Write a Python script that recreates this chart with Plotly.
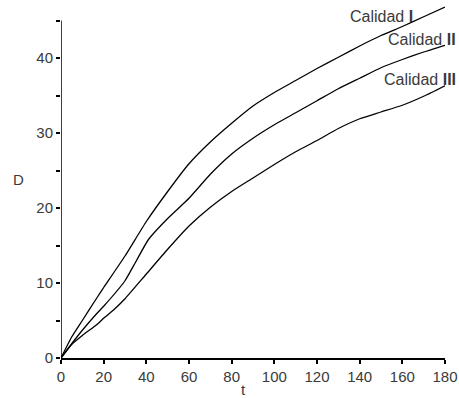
import plotly.graph_objects as go

# ---- data ----
t_I = [0, 5, 10, 17, 20, 30, 40, 50, 60, 70, 80, 90, 100, 110, 120, 130, 140, 150, 160, 170, 180]
D_I = [0, 2.8, 5.0, 8.1, 9.4, 13.6, 18.2, 22.2, 25.9, 28.8, 31.3, 33.6, 35.4, 37.0, 38.6, 40.1, 41.6, 43.0, 44.2, 45.5, 46.8]

t_II = [0, 5, 10, 17, 20, 30, 35, 41, 50, 60, 70, 80, 90, 100, 110, 120, 130, 140, 150, 160, 170, 180]
D_II = [0, 1.9, 3.7, 6.0, 6.9, 10.3, 12.8, 15.8, 18.6, 21.3, 24.5, 27.2, 29.3, 31.1, 32.7, 34.3, 35.9, 37.3, 38.7, 39.8, 40.8, 41.7]

t_III = [0, 5, 10, 17, 20, 25, 30, 40, 50, 60, 70, 80, 90, 100, 110, 120, 130, 140, 150, 160, 170, 180]
D_III = [0, 1.8, 3.0, 4.5, 5.3, 6.5, 7.9, 11.2, 14.5, 17.6, 20.1, 22.2, 24.0, 25.8, 27.5, 29.0, 30.6, 31.9, 32.8, 33.7, 34.9, 36.3]

series_names = ["Calidad <b>I</b>", "Calidad <b>II</b>", "Calidad <b>III</b>"]
label_pos_t = [166, 180, 180]
label_shift = [0, 13, 13]
label_pos_D = [45.6, 42.5, 37.2]

x_ticks = [0, 20, 40, 60, 80, 100, 120, 140, 160, 180]
y_axis_max = 45

FONT = "Liberation Sans"
TXT = "#3a3a3a"

fig = go.Figure()
for tt, dd in [(t_I, D_I), (t_II, D_II), (t_III, D_III)]:
    fig.add_trace(go.Scatter(x=tt, y=dd, mode="lines",
                             line=dict(color="black", width=1.3, shape="spline", smoothing=0.5),
                             showlegend=False, hoverinfo="skip"))

annotations = []
for name, xt, xs, yd in zip(series_names, label_pos_t, label_shift, label_pos_D):
    annotations.append(dict(x=xt, y=yd, xref="x", yref="y", text=name, showarrow=False,
                            xanchor="right", yanchor="middle", xshift=xs,
                            font=dict(family=FONT, size=16, color=TXT)))
annotations.append(dict(x=0, y=0.5, xref="paper", yref="paper", text="D", showarrow=False,
                        xshift=-43, xanchor="center", yanchor="middle",
                        font=dict(family=FONT, size=15, color=TXT)))
annotations.append(dict(x=0.474, y=0, xref="paper", yref="paper", text="t", showarrow=False,
                        yshift=-31, xanchor="center", yanchor="middle",
                        font=dict(family=FONT, size=15, color=TXT)))

fig.update_layout(
    width=459, height=398,
    margin=dict(l=61, r=14, t=1, b=40),
    plot_bgcolor="white", paper_bgcolor="white",
    annotations=annotations,
    shapes=[dict(type="line", xref="x", yref="y", x0=0, x1=0, y0=0, y1=y_axis_max,
                 line=dict(color="black", width=1.5), layer="above")],
    xaxis=dict(range=[0, 180], tickvals=x_ticks, showgrid=False, zeroline=False,
               showline=True, linecolor="black", linewidth=1.5,
               ticks="outside", ticklen=4, tickwidth=1.5, tickcolor="black",
               tickfont=dict(family=FONT, size=15, color=TXT)),
    yaxis=dict(range=[0, 47.6], dtick=10, tick0=0, showgrid=False, zeroline=False,
               showline=False,
               ticks="outside", ticklen=4, tickwidth=1.5, tickcolor="black",
               minor=dict(dtick=5, tick0=0, ticks="outside", ticklen=4, tickwidth=1.5,
                          tickcolor="black", showgrid=False),
               tickfont=dict(family=FONT, size=15, color=TXT)),
)

fig.write_html("out.html", config={"displayModeBar": False},
               post_script="document.body.style.margin='0';")
